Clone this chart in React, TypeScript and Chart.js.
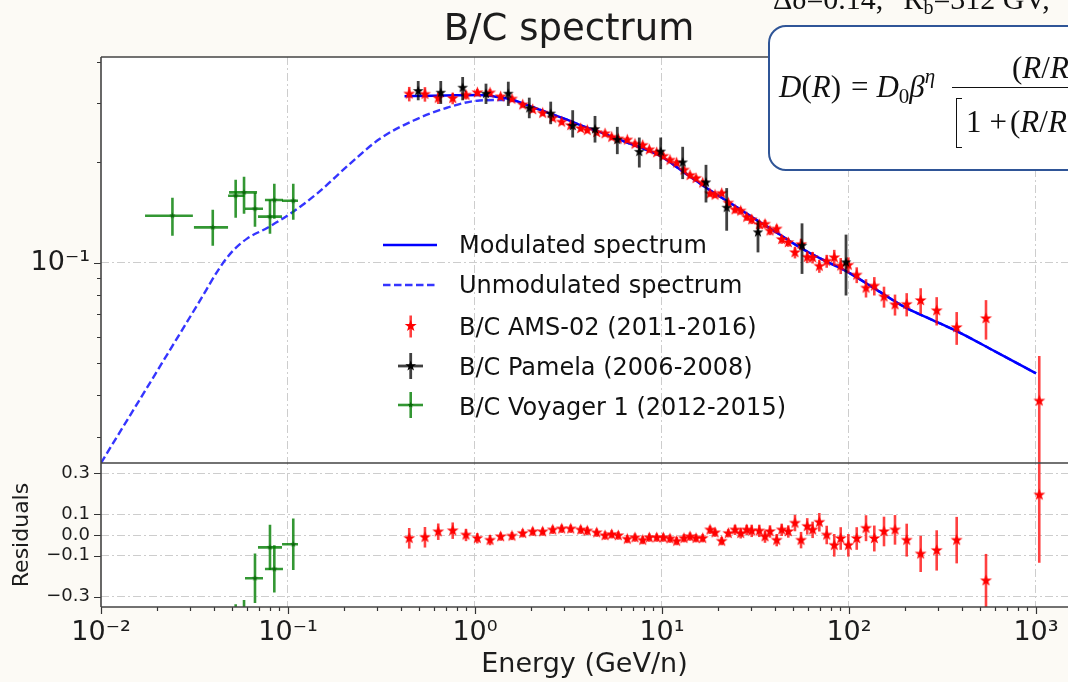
import React, { useEffect, useRef } from 'react';
import { Chart, registerables } from 'chart.js';

Chart.register(...registerables);

// ---------------- axis / tick data ----------------
const xDecades = [0.01, 0.1, 1, 10, 100, 1000];
const xTickLabels = ['10⁻²', '10⁻¹', '10⁰', '10¹', '10²', '10³'];
const yMainTicks = [0.03, 0.04, 0.05, 0.06, 0.07, 0.08, 0.09, 0.1, 0.2, 0.3, 0.4];
const yMainLabelValues = [0.1];
const yMainTickLabels = ['10⁻¹'];
const resTicks = [0.3, 0.1, 0, -0.1, -0.3];
const resTickLabels = ['0.3', '0.1', '0.0', '−0.1', '−0.3'];

// ---------------- model curves ----------------
const modE = [0.42, 0.6, 0.8, 1.03, 1.25, 1.54, 1.8, 2.04, 2.5, 3.1, 3.8, 4.66, 6.5, 9.75, 13, 17.4, 24, 32.2, 42, 54.7, 75, 97.5, 140, 200, 280, 400, 600, 1000];
const modVal = [0.315, 0.316, 0.317, 0.318, 0.315, 0.309, 0.3, 0.292, 0.28, 0.268, 0.256, 0.246, 0.229, 0.209, 0.187, 0.167, 0.149, 0.134, 0.122, 0.111, 0.101, 0.094, 0.083, 0.0734, 0.0673, 0.0613, 0.0543, 0.0466];

const unmodE = [0.01, 0.02, 0.0338, 0.0432, 0.0508, 0.0604, 0.0773, 0.1026, 0.143, 0.215, 0.31, 0.466, 0.708, 1.06, 1.48, 2.04, 2.5, 3.1, 3.8, 4.66, 6.5, 9.75, 13, 17.4, 24, 32.2, 42, 54.7, 75, 97.5, 140, 200, 280, 400, 600, 1000];
const unmodVal = [0.0251, 0.0474, 0.0769, 0.0966, 0.1086, 0.118, 0.127, 0.14, 0.161, 0.198, 0.235, 0.266, 0.291, 0.306, 0.307, 0.292, 0.28, 0.268, 0.256, 0.246, 0.229, 0.209, 0.187, 0.167, 0.149, 0.134, 0.122, 0.111, 0.101, 0.094, 0.083, 0.0734, 0.0673, 0.0613, 0.0543, 0.0466];

// ---------------- AMS-02 ----------------
const amsE = [0.445, 0.54, 0.636, 0.76, 0.895, 1.029, 1.203, 1.372, 1.577, 1.799, 2.035, 2.301, 2.603, 2.909, 3.25, 3.675, 3.986, 4.475, 4.958, 5.383, 5.838, 6.52, 7.17, 7.885, 8.55, 9.37, 10.16, 11.03, 11.98, 13.11, 14.12, 15.2, 16.51, 18.06, 19.21, 20.86, 22.62, 24.57, 26.36, 28.38, 30.18, 33.14, 35.55, 37.8, 41.06, 43.66, 47.35, 51.42, 55.4, 59.8, 63.9, 69.4, 76.0, 83.4, 90.3, 99.2, 110.0, 123.3, 136.6, 153.9, 176.2, 203.5, 241.7, 294.4, 376.6, 540.3, 1041];
const amsVal = [0.32, 0.3195, 0.311, 0.3105, 0.3175, 0.323, 0.3226, 0.314, 0.309, 0.297, 0.2874, 0.2804, 0.271, 0.2637, 0.2576, 0.2523, 0.2492, 0.2454, 0.2434, 0.2376, 0.2347, 0.2331, 0.2266, 0.2246, 0.2179, 0.2136, 0.2083, 0.2028, 0.1989, 0.1894, 0.1826, 0.1788, 0.1733, 0.1608, 0.1594, 0.1613, 0.1509, 0.144, 0.1428, 0.1368, 0.1344, 0.13, 0.1304, 0.1245, 0.1261, 0.1173, 0.1149, 0.1072, 0.1134, 0.1038, 0.1035, 0.0976, 0.101, 0.1035, 0.0978, 0.0983, 0.0918, 0.0839, 0.0851, 0.079, 0.0748, 0.075, 0.077, 0.0718, 0.0639, 0.068, 0.0385];
const amsErr = [0.016, 0.016, 0.0124, 0.0124, 0.0095, 0.0081, 0.0081, 0.0063, 0.0062, 0.0059, 0.0057, 0.0056, 0.0054, 0.0053, 0.0052, 0.005, 0.005, 0.0049, 0.0049, 0.0048, 0.0047, 0.0047, 0.0045, 0.0045, 0.0044, 0.0043, 0.0042, 0.0041, 0.004, 0.0038, 0.0037, 0.0036, 0.0035, 0.0032, 0.0032, 0.0032, 0.003, 0.0036, 0.0036, 0.0034, 0.004, 0.0039, 0.0039, 0.0037, 0.0038, 0.0035, 0.0034, 0.0043, 0.0045, 0.0042, 0.0041, 0.0044, 0.0045, 0.0057, 0.0054, 0.0054, 0.005, 0.0053, 0.0054, 0.0057, 0.0054, 0.006, 0.0068, 0.007, 0.0072, 0.0092, 0.014];
const amsRes = [-0.016, -0.011, 0.016, 0.021, 0.0, -0.016, -0.025, -0.008, -0.005, 0.008, 0.016, 0.016, 0.025, 0.03, 0.03, 0.025, 0.02, 0.011, -0.003, 0.003, -0.003, -0.02, -0.013, -0.025, -0.013, -0.013, -0.013, -0.018, -0.03, -0.016, -0.008, -0.016, -0.016, 0.025, 0.011, -0.03, 0.008, 0.025, 0.008, 0.025, 0.02, 0.02, -0.008, 0.017, -0.025, 0.025, 0.017, 0.058, -0.025, 0.042, 0.025, 0.062, 0.0, -0.05, -0.017, -0.05, -0.017, 0.033, -0.017, 0.017, 0.025, -0.025, -0.092, -0.075, -0.025, -0.222, 0.195];
const amsResErr = [0.05, 0.05, 0.04, 0.04, 0.03, 0.025, 0.025, 0.02, 0.02, 0.02, 0.02, 0.02, 0.02, 0.02, 0.02, 0.02, 0.02, 0.02, 0.02, 0.02, 0.02, 0.02, 0.02, 0.02, 0.02, 0.02, 0.02, 0.02, 0.02, 0.02, 0.02, 0.02, 0.02, 0.02, 0.02, 0.02, 0.02, 0.025, 0.025, 0.025, 0.03, 0.03, 0.03, 0.03, 0.03, 0.03, 0.03, 0.04, 0.04, 0.04, 0.04, 0.045, 0.045, 0.055, 0.055, 0.055, 0.055, 0.063, 0.063, 0.072, 0.072, 0.08, 0.088, 0.098, 0.113, 0.13, 0.33];

// ---------------- PAMELA ----------------
const pamE = [0.497, 0.656, 0.859, 1.145, 1.507, 1.951, 2.54, 3.33, 4.383, 5.768, 7.562, 9.842, 12.9, 17.19, 22.18, 32.61, 56.08, 96.4];
const pamVal = [0.3266, 0.3228, 0.3341, 0.3206, 0.3206, 0.29, 0.2795, 0.2568, 0.251, 0.2332, 0.2147, 0.2151, 0.1995, 0.1738, 0.146, 0.1232, 0.1124, 0.1002];
const pamLo = [0.3064, 0.2987, 0.3064, 0.2987, 0.2947, 0.2707, 0.2598, 0.237, 0.2289, 0.2113, 0.1927, 0.1906, 0.1779, 0.1514, 0.1246, 0.1073, 0.0925, 0.0797];
const pamHi = [0.35, 0.35, 0.3598, 0.3436, 0.3483, 0.312, 0.3035, 0.2861, 0.275, 0.2551, 0.237, 0.237, 0.2223, 0.1963, 0.1672, 0.1335, 0.1311, 0.1213];

// ---------------- Voyager 1 ----------------
const voyE = [0.0241, 0.0396, 0.0525, 0.0582, 0.0666, 0.0801, 0.0845, 0.1067];
const voyElo = [0.0172, 0.0314, 0.0478, 0.0484, 0.0589, 0.0691, 0.0753, 0.0929];
const voyEhi = [0.031, 0.0478, 0.0585, 0.0683, 0.0735, 0.0929, 0.094, 0.1131];
const voyVal = [0.1382, 0.1275, 0.1586, 0.1623, 0.145, 0.1373, 0.154, 0.1532];
const voyLo = [0.1204, 0.1124, 0.1363, 0.14, 0.128, 0.1221, 0.1353, 0.1344];
const voyHi = [0.1564, 0.144, 0.177, 0.1807, 0.162, 0.1543, 0.1722, 0.1722];
const voyResE = [0.0525, 0.0582, 0.0666, 0.0801, 0.0845, 0.1067];
const voyResElo = [0.0478, 0.0484, 0.0589, 0.0691, 0.0753, 0.0929];
const voyResEhi = [0.0585, 0.0683, 0.0735, 0.0929, 0.094, 0.1131];
const voyRes = [-0.46, -0.44, -0.21, -0.06, -0.165, -0.045];
const voyResErr = [0.123, 0.124, 0.12, 0.11, 0.115, 0.125];

const legendLabels = ['Modulated spectrum', 'Unmodulated spectrum', 'B/C AMS-02 (2011-2016)', 'B/C Pamela (2006-2008)', 'B/C Voyager 1 (2012-2015)'];

// ---------------- styling ----------------
const SANS = '"DejaVu Sans", sans-serif';
const SERIF = '"Liberation Serif", "Times New Roman", serif';
const GRID = '#cdcdcd';
const DASH = [8, 3, 2, 3];
const TXT = '#1c1c1c';
const RED = '#ff0000';
const RED_BAR = 'rgba(255,0,0,0.75)';
const BLK_BAR = 'rgba(0,0,0,0.75)';
const GRN_BAR = 'rgba(0,125,0,0.8)';

function starPath(cx: number, cy: number, r: number) {
  const pts: string[] = [];
  for (let i = 0; i < 10; i++) {
    const rr = i % 2 === 0 ? r : r * 0.4;
    const a = -Math.PI / 2 + (i * Math.PI) / 5;
    pts.push((cx + rr * Math.cos(a)).toFixed(2) + ',' + (cy + rr * Math.sin(a)).toFixed(2));
  }
  return pts.join(' ');
}

function makeStar(color: string, r: number) {
  const s = Math.ceil(2 * r + 2);
  const c = document.createElement('canvas');
  c.width = s;
  c.height = s;
  const g = c.getContext('2d')!;
  g.translate(s / 2, s / 2);
  g.beginPath();
  for (let i = 0; i < 10; i++) {
    const rr = i % 2 === 0 ? r : r * 0.4;
    const a = -Math.PI / 2 + (i * Math.PI) / 5;
    g.lineTo(rr * Math.cos(a), rr * Math.sin(a));
  }
  g.closePath();
  g.fillStyle = color;
  g.fill();
  return c;
}

const errorBarPlugin = {
  id: 'errorBars',
  beforeDatasetDraw(chart: any, args: any) {
    const ds = chart.data.datasets[args.index];
    if (!ds.errorBars) return;
    const xs = chart.scales[args.meta.xAxisID];
    const ys = chart.scales[args.meta.yAxisID];
    const a = chart.chartArea;
    const ctx = chart.ctx;
    ctx.save();
    ctx.beginPath();
    ctx.rect(a.left, ys.top, a.right - a.left, ys.bottom - ys.top);
    ctx.clip();
    ctx.strokeStyle = ds.errorColor;
    ctx.lineWidth = ds.errorWidth;
    ctx.lineCap = 'butt';
    for (const b of ds.errorBars) {
      const px = xs.getPixelForValue(b.x);
      const py = ys.getPixelForValue(b.y);
      ctx.beginPath();
      ctx.moveTo(px, ys.getPixelForValue(b.ylo));
      ctx.lineTo(px, ys.getPixelForValue(b.yhi));
      if (b.xlo !== undefined) {
        ctx.moveTo(xs.getPixelForValue(b.xlo), py);
        ctx.lineTo(xs.getPixelForValue(b.xhi), py);
      }
      ctx.stroke();
    }
    ctx.restore();
  },
};

const framePlugin = {
  id: 'frame',
  beforeDraw(chart: any) {
    const { ctx, chartArea: a } = chart;
    ctx.save();
    ctx.fillStyle = '#ffffff';
    ctx.fillRect(a.left, a.top, a.right - a.left, a.bottom - a.top);
    ctx.restore();
  },
  afterDraw(chart: any) {
    const { ctx, chartArea: a, scales } = chart;
    const xs = scales.x;
    const ys = scales.y;
    const yr = scales.yr;
    ctx.save();
    ctx.strokeStyle = '#333';
    ctx.lineWidth = 1.2;
    ctx.beginPath();
    for (const t of xs.ticks) {
      const px = Math.round(xs.getPixelForValue(t.value)) + 0.5;
      const major = xDecades.indexOf(t.value) >= 0;
      ctx.moveTo(px, a.bottom);
      ctx.lineTo(px, a.bottom + (major ? 7 : 4));
    }
    for (const t of ys.ticks) {
      const py = Math.round(ys.getPixelForValue(t.value)) + 0.5;
      const major = yMainLabelValues.indexOf(t.value) >= 0;
      ctx.moveTo(a.left, py);
      ctx.lineTo(a.left - (major ? 7 : 4), py);
    }
    for (const t of yr.ticks) {
      const py = Math.round(yr.getPixelForValue(t.value)) + 0.5;
      ctx.moveTo(a.left, py);
      ctx.lineTo(a.left - 7, py);
    }
    ctx.stroke();
    ctx.strokeStyle = '#444';
    ctx.lineWidth = 1.6;
    ctx.beginPath();
    ctx.moveTo(a.left, a.top);
    ctx.lineTo(a.right + 4, a.top);
    ctx.moveTo(a.left, a.top);
    ctx.lineTo(a.left, a.bottom);
    ctx.moveTo(a.left, a.bottom);
    ctx.lineTo(a.right + 4, a.bottom);
    ctx.moveTo(a.left, yr.top);
    ctx.lineTo(a.right + 4, yr.top);
    ctx.stroke();
    ctx.restore();
  },
};

function buildXTicks() {
  const all: number[] = [];
  for (let d = 0; d < xDecades.length; d++) {
    all.push(xDecades[d]);
    if (d < xDecades.length - 1) {
      for (let k = 2; k <= 9; k++) all.push(Number((xDecades[d] * k).toPrecision(3)));
    }
  }
  return all;
}

export default function App() {
  const ref = useRef<HTMLCanvasElement>(null);

  useEffect(() => {
    const redStar = makeStar(RED, 6.3);
    const blackStar = makeStar('#000000', 5.6);
    const greenDot = makeStar('#0a640a', 3.2);
    const xAllTicks = buildXTicks();

    const chart = new Chart(ref.current as HTMLCanvasElement, {
      type: 'scatter',
      data: {
        datasets: [
          {
            type: 'line',
            label: legendLabels[0],
            data: modE.map((e, i) => ({ x: e, y: modVal[i] })),
            borderColor: '#0000ff',
            borderWidth: 2.5,
            pointRadius: 0,
            cubicInterpolationMode: 'monotone',
            fill: false,
            xAxisID: 'x',
            yAxisID: 'y',
            order: 4,
          },
          {
            type: 'line',
            label: legendLabels[1],
            data: unmodE.map((e, i) => ({ x: e, y: unmodVal[i] })),
            borderColor: '#3535ff',
            borderWidth: 2.4,
            borderDash: [7.5, 3.5],
            pointRadius: 0,
            cubicInterpolationMode: 'monotone',
            fill: false,
            xAxisID: 'x',
            yAxisID: 'y',
            order: 5,
          },
          {
            label: legendLabels[2],
            data: amsE.map((e, i) => ({ x: e, y: amsVal[i] })),
            pointStyle: redStar,
            pointRadius: 5,
            xAxisID: 'x',
            yAxisID: 'y',
            order: 3,
            errorBars: amsE.map((e, i) => ({ x: e, y: amsVal[i], ylo: amsVal[i] - amsErr[i], yhi: amsVal[i] + amsErr[i] })),
            errorColor: RED_BAR,
            errorWidth: 2.6,
          },
          {
            label: legendLabels[3],
            data: pamE.map((e, i) => ({ x: e, y: pamVal[i] })),
            pointStyle: blackStar,
            pointRadius: 5,
            xAxisID: 'x',
            yAxisID: 'y',
            order: 2,
            errorBars: pamE.map((e, i) => ({ x: e, y: pamVal[i], ylo: pamLo[i], yhi: pamHi[i] })),
            errorColor: BLK_BAR,
            errorWidth: 2.8,
          },
          {
            label: legendLabels[4],
            data: voyE.map((e, i) => ({ x: e, y: voyVal[i] })),
            pointStyle: greenDot,
            pointRadius: 3,
            xAxisID: 'x',
            yAxisID: 'y',
            order: 1,
            errorBars: voyE.map((e, i) => ({ x: e, y: voyVal[i], ylo: voyLo[i], yhi: voyHi[i], xlo: voyElo[i], xhi: voyEhi[i] })),
            errorColor: GRN_BAR,
            errorWidth: 2.6,
          },
          {
            label: 'AMS residuals',
            data: amsE.map((e, i) => ({ x: e, y: amsRes[i] })),
            pointStyle: redStar,
            pointRadius: 5,
            xAxisID: 'x',
            yAxisID: 'yr',
            order: 3,
            errorBars: amsE.map((e, i) => ({ x: e, y: amsRes[i], ylo: amsRes[i] - amsResErr[i], yhi: amsRes[i] + amsResErr[i] })),
            errorColor: RED_BAR,
            errorWidth: 2.6,
          },
          {
            label: 'Voyager residuals',
            data: voyResE.map((e, i) => ({ x: e, y: voyRes[i] })),
            pointStyle: greenDot,
            pointRadius: 3,
            xAxisID: 'x',
            yAxisID: 'yr',
            order: 1,
            errorBars: voyResE.map((e, i) => ({ x: e, y: voyRes[i], ylo: voyRes[i] - voyResErr[i], yhi: voyRes[i] + voyResErr[i], xlo: voyResElo[i], xhi: voyResEhi[i] })),
            errorColor: GRN_BAR,
            errorWidth: 2.6,
          },
        ] as any,
      },
      options: {
        responsive: false,
        maintainAspectRatio: false,
        animation: false,
        devicePixelRatio: 1,
        events: [],
        layout: { autoPadding: false, padding: { top: 57, left: 0, right: 0, bottom: 0 } },
        plugins: {
          legend: { display: false },
          tooltip: { enabled: false },
          title: { display: false },
        },
        scales: {
          x: {
            type: 'logarithmic',
            position: 'bottom',
            min: 0.01,
            max: 1483,
            bounds: 'data',
            afterBuildTicks: (s: any) => {
              s.ticks = xAllTicks.map((v) => ({ value: v }));
            },
            afterFit: (s: any) => {
              s.height = 75;
              s.paddingLeft = 0;
              s.paddingRight = 0;
            },
            ticks: {
              autoSkip: false,
              maxRotation: 0,
              minRotation: 0,
              padding: 10,
              color: TXT,
              font: { size: 27, family: SANS },
              callback: (v: any) => {
                const i = xDecades.indexOf(Number(v));
                return i >= 0 ? xTickLabels[i] : '';
              },
            },
            grid: {
              drawTicks: false,
              lineWidth: 1,
              color: (c: any) => (c.tick && xDecades.indexOf(c.tick.value) > 0 ? GRID : 'rgba(0,0,0,0)'),
            },
            border: { display: false, dash: DASH },
            title: {
              display: true,
              text: 'Energy (GeV/n)',
              color: TXT,
              font: { size: 27, family: SANS },
              padding: { top: 0, bottom: 1 },
            },
          },
          y: {
            type: 'logarithmic',
            position: 'left',
            stack: 'panels',
            stackWeight: 406,
            weight: 2,
            min: 0.0251,
            max: 0.413,
            bounds: 'data',
            afterBuildTicks: (s: any) => {
              s.ticks = yMainTicks.map((v) => ({ value: v }));
            },
            afterFit: (s: any) => {
              s.width = 101;
              s.paddingTop = 0;
              s.paddingBottom = 0;
            },
            ticks: {
              autoSkip: false,
              padding: 11,
              color: TXT,
              font: { size: 27, family: SANS },
              callback: (v: any) => {
                const i = yMainLabelValues.indexOf(Number(v));
                return i >= 0 ? yMainTickLabels[i] : '';
              },
            },
            grid: {
              drawTicks: false,
              lineWidth: 1,
              color: (c: any) => (c.tick && yMainLabelValues.indexOf(c.tick.value) >= 0 ? GRID : 'rgba(0,0,0,0)'),
            },
            border: { display: false, dash: DASH },
          },
          yr: {
            type: 'linear',
            position: 'left',
            stack: 'panels',
            stackWeight: 144,
            weight: 1,
            min: -0.35,
            max: 0.35,
            afterBuildTicks: (s: any) => {
              s.ticks = resTicks.map((v) => ({ value: v }));
            },
            afterFit: (s: any) => {
              s.width = 101;
              s.paddingTop = 0;
              s.paddingBottom = 0;
            },
            ticks: {
              autoSkip: false,
              padding: 11,
              color: TXT,
              font: { size: 18, family: SANS },
              callback: (v: any) => {
                const i = resTicks.indexOf(Number(v));
                return i >= 0 ? resTickLabels[i] : '';
              },
            },
            grid: { drawTicks: false, lineWidth: 1, color: GRID },
            border: { display: false, dash: DASH },
            title: {
              display: true,
              text: 'Residuals',
              color: TXT,
              font: { size: 22, family: SANS },
              padding: { top: 9, bottom: 0 },
            },
          },
        } as any,
      },
      plugins: [framePlugin, errorBarPlugin],
    } as any);

    return () => chart.destroy();
  }, []);

  const legendTop = [233, 273, 314.7, 354.7, 394.7];

  return (
    <div
      style={{
        position: 'fixed',
        left: 0,
        top: 0,
        width: 1068,
        height: 682,
        overflow: 'hidden',
        background: '#fcfaf5',
      }}
    >
      <canvas ref={ref} width={1068} height={682} style={{ position: 'absolute', left: 0, top: 0 }} />

      <div
        style={{
          position: 'absolute',
          left: 0,
          top: 8.7,
          width: 1138,
          textAlign: 'center',
          font: `37px ${SANS}`,
          lineHeight: '37px',
          color: TXT,
          whiteSpace: 'nowrap',
        }}
      >
        B/C spectrum
      </div>

      <div
        style={{
          position: 'absolute',
          left: 773,
          top: -15.6,
          font: `30px ${SERIF}`,
          lineHeight: '30px',
          color: '#111',
          whiteSpace: 'nowrap',
        }}
      >
        Δδ=0.14,<span style={{ marginLeft: 20 }}>R</span>
        <span style={{ fontSize: 20, position: 'relative', top: 5 }}>b</span>=312 GV,
      </div>

      <div
        style={{
          position: 'absolute',
          left: 768,
          top: 25,
          width: 340,
          height: 146,
          boxSizing: 'border-box',
          border: '2.5px solid #2f5597',
          borderRadius: 18,
          background: '#ffffff',
        }}
      />
      <div
        style={{
          position: 'absolute',
          left: 779,
          top: 70.7,
          font: `31px ${SERIF}`,
          lineHeight: '31px',
          color: '#111',
          whiteSpace: 'nowrap',
        }}
      >
        <i>D</i>(<i>R</i>)<span style={{ margin: '0 8px 0 10px' }}>=</span>
        <i>D</i>
        <span style={{ fontSize: 21, position: 'relative', top: 6 }}>0</span>
        <i>β</i>
        <span style={{ fontSize: 21, position: 'relative', top: -14 }}>
          <i>η</i>
        </span>
      </div>
      <div
        style={{
          position: 'absolute',
          left: 1012,
          top: 52,
          font: `31px ${SERIF}`,
          lineHeight: '31px',
          color: '#111',
          whiteSpace: 'nowrap',
        }}
      >
        (<i>R</i>/<i>R</i>
      </div>
      <div style={{ position: 'absolute', left: 952, top: 86.5, width: 200, height: 1.6, background: '#111' }} />
      <div
        style={{
          position: 'absolute',
          left: 956,
          top: 98,
          width: 6,
          height: 50,
          boxSizing: 'border-box',
          borderLeft: '1.6px solid #111',
          borderTop: '1.6px solid #111',
          borderBottom: '1.6px solid #111',
        }}
      />
      <div
        style={{
          position: 'absolute',
          left: 966,
          top: 105.7,
          font: `31px ${SERIF}`,
          lineHeight: '31px',
          color: '#111',
          whiteSpace: 'nowrap',
        }}
      >
        1<span style={{ margin: '0 3px 0 8px' }}>+</span>(<i>R</i>/<i>R</i>
      </div>

      <svg width={1068} height={682} style={{ position: 'absolute', left: 0, top: 0, pointerEvents: 'none' }}>
        <line x1={383} y1={245} x2={437} y2={245} stroke="#0000ff" strokeWidth={2.5} />
        <line x1={383} y1={285} x2={437} y2={285} stroke="#3535ff" strokeWidth={2.4} strokeDasharray="7.5 3.5" />
        <line x1={410.7} y1={315.5} x2={410.7} y2={337.5} stroke={RED_BAR} strokeWidth={2.6} />
        <polygon points={starPath(410.7, 326, 6.3)} fill={RED} />
        <line x1={398} y1={366} x2={423} y2={366} stroke={BLK_BAR} strokeWidth={2.8} />
        <line x1={410.7} y1={353} x2={410.7} y2={379} stroke={BLK_BAR} strokeWidth={2.8} />
        <polygon points={starPath(410.7, 366, 5.6)} fill="#000" />
        <line x1={398} y1={405} x2={423} y2={405} stroke={GRN_BAR} strokeWidth={2.6} />
        <line x1={410.7} y1={392} x2={410.7} y2={418} stroke={GRN_BAR} strokeWidth={2.6} />
        <polygon points={starPath(410.7, 405, 3.2)} fill="#0a640a" />
      </svg>
      {legendLabels.map((t, i) => (
        <div
          key={t}
          style={{
            position: 'absolute',
            left: 459,
            top: legendTop[i],
            font: `24px ${SANS}`,
            lineHeight: '24px',
            color: '#111',
            whiteSpace: 'nowrap',
          }}
        >
          {t}
        </div>
      ))}
    </div>
  );
}
